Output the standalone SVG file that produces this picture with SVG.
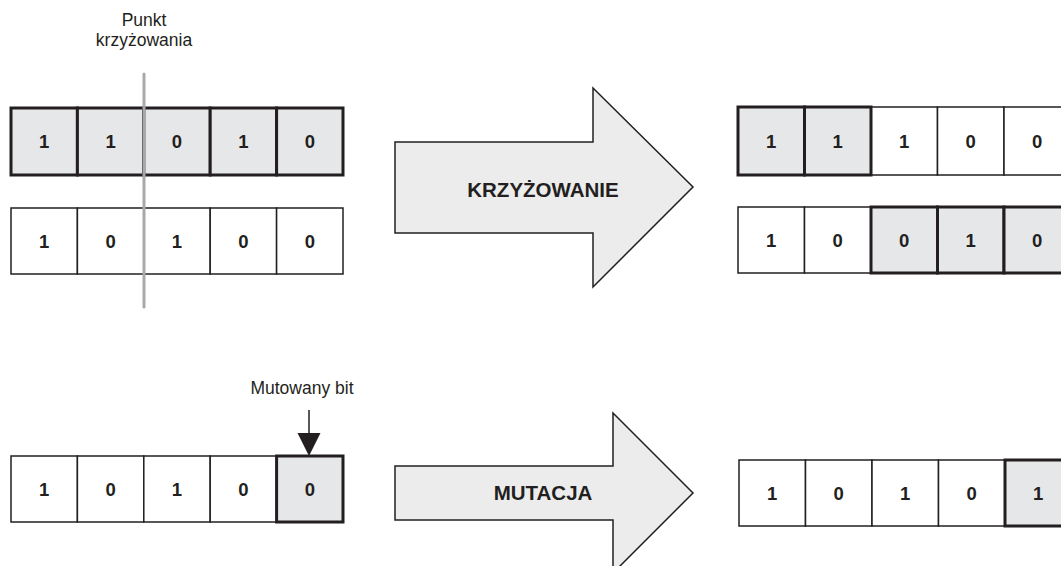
<svg xmlns="http://www.w3.org/2000/svg" width="1061" height="566" viewBox="0 0 1061 566">
<defs>
<style>
.c{fill:#ffffff;stroke:#231f20;stroke-width:1.5}
.g{fill:#e6e7e8;stroke:#231f20;stroke-width:3}
.d{font-family:"Liberation Sans",Arial,sans-serif;font-weight:bold;font-size:18.5px;fill:#231f20;text-anchor:middle}
.lbl{font-family:"Liberation Sans",Arial,sans-serif;font-size:17.5px;fill:#231f20;text-anchor:middle}
.big{font-family:"Liberation Sans",Arial,sans-serif;font-weight:bold;font-size:20.5px;fill:#231f20;text-anchor:middle}
.arr{fill:#ececed;stroke:#231f20;stroke-width:1.5;stroke-linejoin:miter}
</style>
</defs>
<rect width="1061" height="566" fill="#ffffff"/>

<g id="label-punkt">
<text class="lbl" x="144" y="26">Punkt</text>
<text class="lbl" x="144" y="46">krzyżowania</text>
</g>

<g id="parent1">
<rect class="g" x="11" y="108" width="66.4" height="67"/>
<rect class="g" x="77.4" y="108" width="66.4" height="67"/>
<rect class="g" x="143.8" y="108" width="66.4" height="67"/>
<rect class="g" x="210.2" y="108" width="66.4" height="67"/>
<rect class="g" x="276.6" y="108" width="66.4" height="67"/>
<text class="d" x="44.2" y="148">1</text>
<text class="d" x="110.6" y="148">1</text>
<text class="d" x="177" y="148">0</text>
<text class="d" x="243.4" y="148">1</text>
<text class="d" x="309.8" y="148">0</text>
</g>

<g id="parent2">
<rect class="c" x="11" y="208" width="66.4" height="66"/>
<rect class="c" x="77.4" y="208" width="66.4" height="66"/>
<rect class="c" x="143.8" y="208" width="66.4" height="66"/>
<rect class="c" x="210.2" y="208" width="66.4" height="66"/>
<rect class="c" x="276.6" y="208" width="66.4" height="66"/>
<text class="d" x="44.2" y="247.5">1</text>
<text class="d" x="110.6" y="247.5">0</text>
<text class="d" x="177" y="247.5">1</text>
<text class="d" x="243.4" y="247.5">0</text>
<text class="d" x="309.8" y="247.5">0</text>
</g>

<g id="crossover-line">
<line x1="144" y1="74" x2="144" y2="307" stroke="#a7a9ac" stroke-width="3" stroke-linecap="round"/>
</g>

<g id="arrow-krzyzowanie">
<polygon class="arr" points="395,142 593,142 593,88 693,187 593,287 593,233 395,233"/>
<text class="big" x="543" y="197">KRZYŻOWANIE</text>
</g>

<g id="child1">
<rect class="c" x="871" y="107" width="66.5" height="68"/>
<rect class="c" x="937.5" y="107" width="66.5" height="68"/>
<rect class="c" x="1004" y="107" width="66.5" height="68"/>
<rect class="g" x="738" y="107" width="66.5" height="68"/>
<rect class="g" x="804.5" y="107" width="66.5" height="68"/>
<text class="d" x="771.2" y="147.5">1</text>
<text class="d" x="837.7" y="147.5">1</text>
<text class="d" x="904.2" y="147.5">1</text>
<text class="d" x="970.7" y="147.5">0</text>
<text class="d" x="1037.2" y="147.5">0</text>
</g>

<g id="child2">
<rect class="c" x="738" y="207" width="66.5" height="66"/>
<rect class="c" x="804.5" y="207" width="66.5" height="66"/>
<rect class="g" x="871" y="207" width="66.5" height="66"/>
<rect class="g" x="937.5" y="207" width="66.5" height="66"/>
<rect class="g" x="1004" y="207" width="66.5" height="66"/>
<text class="d" x="771.2" y="246.5">1</text>
<text class="d" x="837.7" y="246.5">0</text>
<text class="d" x="904.2" y="246.5">0</text>
<text class="d" x="970.7" y="246.5">1</text>
<text class="d" x="1037.2" y="246.5">0</text>
</g>

<g id="label-mutowany">
<text class="lbl" x="302" y="394">Mutowany bit</text>
</g>

<g id="connectors">
<line x1="309" y1="410" x2="309" y2="434" stroke="#231f20" stroke-width="1.5"/>
<polygon points="297.5,433 320.5,433 309,456" fill="#231f20"/>
</g>

<g id="mut-before">
<rect class="c" x="11" y="456" width="66.4" height="66"/>
<rect class="c" x="77.4" y="456" width="66.4" height="66"/>
<rect class="c" x="143.8" y="456" width="66.4" height="66"/>
<rect class="c" x="210.2" y="456" width="66.4" height="66"/>
<rect class="g" x="276.6" y="456" width="66.4" height="66"/>
<text class="d" x="44.2" y="495.5">1</text>
<text class="d" x="110.6" y="495.5">0</text>
<text class="d" x="177" y="495.5">1</text>
<text class="d" x="243.4" y="495.5">0</text>
<text class="d" x="309.8" y="495.5">0</text>
</g>

<g id="arrow-mutacja">
<polygon class="arr" points="395,466 613,466 613,413 693,493 613,573 613,520 395,520"/>
<text class="big" x="543" y="500">MUTACJA</text>
</g>

<g id="mut-after">
<rect class="c" x="739" y="460" width="66.5" height="66"/>
<rect class="c" x="805.5" y="460" width="66.5" height="66"/>
<rect class="c" x="872" y="460" width="66.5" height="66"/>
<rect class="c" x="938.5" y="460" width="66.5" height="66"/>
<rect class="g" x="1005" y="460" width="66.5" height="66"/>
<text class="d" x="772.2" y="499.5">1</text>
<text class="d" x="838.7" y="499.5">0</text>
<text class="d" x="905.2" y="499.5">1</text>
<text class="d" x="971.7" y="499.5">0</text>
<text class="d" x="1038.2" y="499.5">1</text>
</g>
</svg>
